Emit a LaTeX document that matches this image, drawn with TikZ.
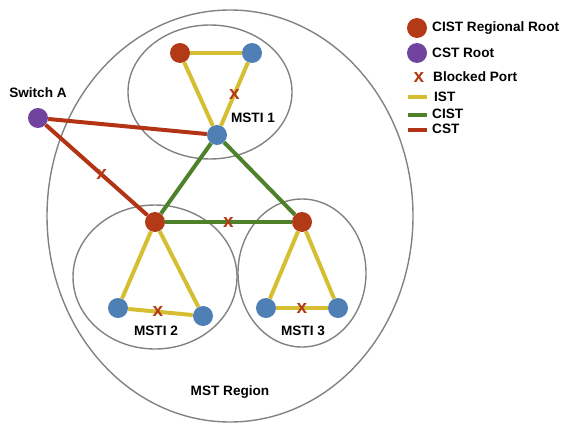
\documentclass[tikz,border=0pt]{standalone}
\usepackage{fontspec}
\setmainfont{Liberation Sans}
\definecolor{rootred}{RGB}{178,58,22}
\definecolor{cstpurple}{RGB}{112,68,158}
\definecolor{swblue}{RGB}{78,128,182}
\definecolor{istyellow}{RGB}{214,190,50}
\definecolor{cistgreen}{RGB}{78,130,42}
\definecolor{cstred}{RGB}{178,52,20}
\definecolor{ringgray}{RGB}{130,130,130}
\begin{document}
\begin{tikzpicture}[x=1pt,y=-1pt,
  font=\bfseries\fontsize{13.6}{15}\selectfont,
  sw/.style={circle,inner sep=0pt,minimum size=20pt},
  regroot/.style={sw,fill=rootred},
  cstroot/.style={sw,fill=cstpurple},
  bridge/.style={sw,fill=swblue},
  ring/.style={draw=ringgray,line width=1.4pt},
  ist/.style={istyellow,line width=4pt},
  cist/.style={cistgreen,line width=4pt},
  cst/.style={cstred,line width=4pt},
  blocked/.style={text=rootred,inner sep=0pt,font=\bfseries\fontsize{19}{19}\selectfont}]
  \useasboundingbox (0,0) rectangle (578,436);
  % regions
  \draw[ring] (230,216) ellipse [x radius=183,y radius=206];
  \draw[ring] (210,92) ellipse [x radius=82,y radius=67];
  \draw[ring] (155,277) ellipse [x radius=82,y radius=72];
  \draw[ring] (302,273) ellipse [x radius=64,y radius=74];
  % switches
  \node[cstroot] (swa) at (38,118) {};
  \node[regroot] (r1) at (180,53) {};
  \node[bridge] (b1a) at (252,53) {};
  \node[bridge] (b1b) at (217,135) {};
  \node[regroot] (r2) at (155,222) {};
  \node[bridge] (b2a) at (118,308) {};
  \node[bridge] (b2b) at (203,316) {};
  \node[regroot] (r3) at (302,222) {};
  \node[bridge] (b3a) at (266,308) {};
  \node[bridge] (b3b) at (338,308) {};
  % IST
  \draw[ist] (r1)--(b1a);
  \draw[ist] (r1)--(b1b);
  \draw[ist] (b1a)--(b1b) node[blocked,midway] {x};
  \draw[ist] (r2)--(b2a);
  \draw[ist] (r2)--(b2b);
  \draw[ist] (b2a)--(b2b) node[blocked,pos=0.46] {x};
  \draw[ist] (r3)--(b3a);
  \draw[ist] (r3)--(b3b);
  \draw[ist] (b3a)--(b3b) node[blocked,midway] {x};
  % CIST
  \draw[cist] (b1b)--(r2);
  \draw[cist] (b1b)--(r3);
  \draw[cist] (r2)--(r3) node[blocked,midway] {x};
  % CST
  \draw[cst] (swa)--(b1b);
  \draw[cst] (swa)--(r2) node[blocked,pos=0.55] {x};
  % labels
  \node (lswa) at (38,93) {Switch A};
  \node (lm1) at (253,118) {MSTI 1};
  \node (lm2) at (156,331) {MSTI 2};
  \node (lm3) at (303,331) {MSTI 3};
  \node (lreg) at (230,392) {MST Region};
  % legend
  \node[regroot] (kroot) at (417,28) {};
  \node[anchor=west,inner sep=0pt] (troot) at (432,28) {CIST Regional Root};
  \node[cstroot] (kcst) at (417,53) {};
  \node[anchor=west,inner sep=0pt] (tcst) at (432,53) {CST Root};
  \node[blocked] (kblk) at (419,77) {x};
  \node[anchor=west,inner sep=0pt] (tblk) at (433,77) {Blocked Port};
  \coordinate (ia) at (408,97);
  \coordinate (ib) at (427,97);
  \draw[ist] (ia)--(ib);
  \node[anchor=west,inner sep=0pt] (tist) at (434,97) {IST};
  \coordinate (ca) at (408,115);
  \coordinate (cb) at (427,115);
  \draw[cist] (ca)--(cb);
  \node[anchor=west,inner sep=0pt] (tcist) at (432,114) {CIST};
  \coordinate (sa) at (408,130);
  \coordinate (sb) at (427,130);
  \draw[cst] (sa)--(sb);
  \node[anchor=west,inner sep=0pt] (tcst2) at (432,129) {CST};
\end{tikzpicture}
\end{document}
